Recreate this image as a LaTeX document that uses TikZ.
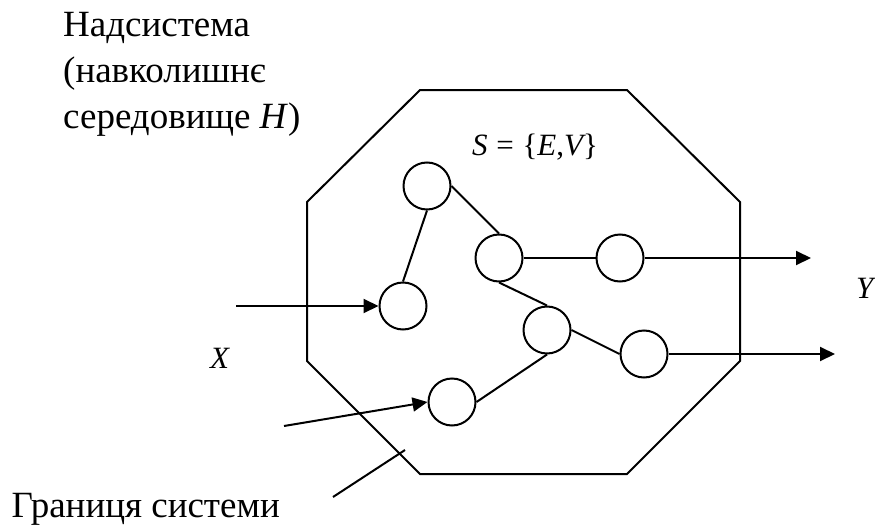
\documentclass[tikz,border=0pt]{standalone}
\usepackage{fontspec}
\setmainfont{Liberation Serif}
\usetikzlibrary{arrows.meta}
\begin{document}
\begin{tikzpicture}[x=1pt,y=-1pt,
  ln/.style={line width=2pt},
  vert/.style={circle,draw,line width=2pt,minimum size=47pt,inner sep=0pt},
  arr/.style={ln,-{Triangle[length=15pt,width=14pt]}},
  bigtxt/.style={inner sep=0pt,font=\fontsize{37}{42}\selectfont},
  mtxt/.style={inner sep=0pt,font=\fontsize{31}{36}\selectfont\itshape}]
\useasboundingbox (0,0) rectangle (875,527);
% boundary octagon
\draw[ln] (420,90) -- (627,90) -- (740,202) -- (740,361) -- (627,474)
  -- (420,474) -- (307,361) -- (307,202) -- cycle;
% vertices
\node[vert] (c1) at (427,186) {};
\node[vert] (c2) at (499,258) {};
\node[vert] (c3) at (620,258) {};
\node[vert] (c4) at (403,306) {};
\node[vert] (c5) at (547,330) {};
\node[vert] (c6) at (644,354) {};
\node[vert] (c7) at (452,402) {};
% edges
\draw[ln] (c1.south) -- (c4.north);
\draw[ln] (c1.east) -- (c2.north);
\draw[ln] (c2.east) -- (c3.west);
\draw[ln] (c2.south) -- (c5.north);
\draw[ln] (c5.east) -- (c6.west);
\draw[ln] (c7.east) -- (c5.south);
% inputs and outputs
\coordinate (in1) at (236,306);
\coordinate (in2) at (284,426);
\coordinate (out1) at (811,258);
\coordinate (out2) at (835,354);
\draw[arr] (in1) -- (c4.west);
\draw[arr] (in2) -- (c7.west);
\draw[arr] (c3.east) -- (out1);
\draw[arr] (c6.east) -- (out2);
% boundary pointer
\coordinate (bp1) at (333,497);
\coordinate (bp2) at (405,450);
\draw[ln] (bp1) -- (bp2);
% texts
\node[bigtxt,anchor=base west] (h1) at (63,37) {Надсистема};
\node[bigtxt,anchor=base west] (h2) at (63,82) {(навколишнє};
\node[bigtxt,anchor=base west] (h3) at (63,128) {середовище \textit{H})};
\node[bigtxt,anchor=base east] (gr) at (280,517) {Границя системи};
\node[mtxt,anchor=base west] (s) at (472,155) {S\hspace{0.28em}{\upshape =}\hspace{0.28em}{\upshape \{}E{\upshape ,}V{\upshape \}}};
\node[mtxt,anchor=base west] (x) at (210,368) {X};
\node[mtxt,anchor=base west] (y) at (856,298) {Y};
\end{tikzpicture}
\end{document}
